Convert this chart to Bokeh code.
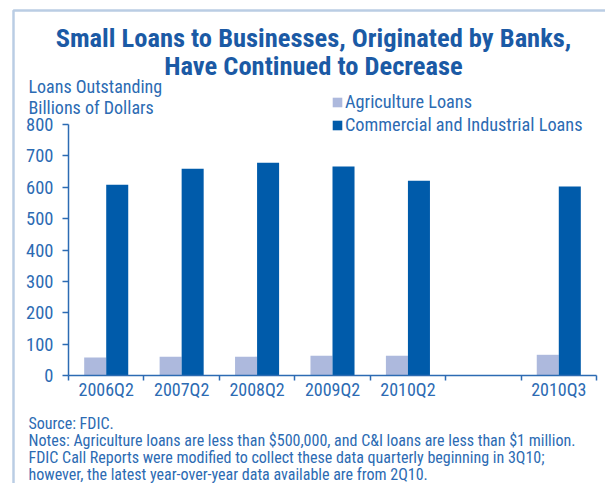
import numpy as np
from bokeh.plotting import figure
from bokeh.models import Range1d, FixedTicker, Label, Legend, LegendItem, BoxAnnotation, ColumnDataSource
from bokeh.embed import file_html
from bokeh.resources import INLINE

# ---- data ----
periods = ["2006Q2", "2007Q2", "2008Q2", "2009Q2", "2010Q2", "", "2010Q3"]
agriculture = [57, 60, 60, 63, 63, None, 66]
commercial_industrial = [608, 659, 678, 666, 621, None, 602]
y_ticks = [0, 100, 200, 300, 400, 500, 600, 700, 800]

title_lines = ["Small Loans to Businesses, Originated by Banks,",
               "Have Continued to Decrease"]
y_title_lines = ["Loans Outstanding", "Billions of Dollars"]
series_names = ["Agriculture Loans", "Commercial and Industrial Loans"]
note_lines = [
    "Source: FDIC.",
    "Notes: Agriculture loans are less than $500,000, and C&I loans are less than $1 million.",
    "FDIC Call Reports were modified to collect these data quarterly beginning in 3Q10;",
    "however, the latest year-over-year data available are from 2Q10.",
]

# ---- style ----
FONT = "Roboto Condensed, Roboto"
TITLE_C = "#1b5aa5"
TEXT_C = "#2c6bb3"
AGRI_C = "#adb9dd"
CI_C = "#005baa"

W, H = 605, 483
AX_L, AX_R, AX_T, AX_B = 68, 596, 124, 375   # plot area (px) for x 0..n, y 0..ymax
n = len(periods)
ymax = 800


def fx(px):  # px -> data x
    return (px - AX_L) * n / (AX_R - AX_L)


def fy(py):  # px -> data y
    return (AX_B - py) * ymax / (AX_B - AX_T)


p = figure(width=W, height=H, output_backend="svg", toolbar_location=None,
           x_range=Range1d(fx(0), fx(W)), y_range=Range1d(fy(H), fy(0)),
           min_border=0)
p.outline_line_color = None
p.xgrid.visible = False
p.ygrid.visible = False
p.background_fill_color = "white"
p.border_fill_color = "white"

# bars
bw = 0.292
idx = [i for i, v in enumerate(commercial_industrial) if v is not None]
src = ColumnDataSource(dict(
    xa=[i + 0.5 - bw / 2 for i in idx],
    xc=[i + 0.5 + bw / 2 for i in idx],
    agri=[agriculture[i] for i in idx],
    ci=[commercial_industrial[i] for i in idx],
))
r_agri = p.vbar(x="xa", top="agri", bottom=0, width=bw, source=src,
                fill_color=AGRI_C, line_color=None)
r_ci = p.vbar(x="xc", top="ci", bottom=0, width=bw, source=src,
              fill_color=CI_C, line_color=None)

# x axis
xa = p.xaxis[0]
xa.fixed_location = 0
xa.bounds = (0, n)
xa.ticker = FixedTicker(ticks=[i + 0.5 for i in range(n)], minor_ticks=list(range(n + 1)))
xa.major_label_overrides = {i + 0.5: lab for i, lab in enumerate(periods)}
xa.major_tick_line_color = None
xa.major_tick_out = 0
xa.major_tick_in = 0
xa.minor_tick_out = 5
xa.minor_tick_in = 0
xa.minor_tick_line_color = TEXT_C
xa.minor_tick_line_width = 1.5
xa.axis_line_color = TEXT_C
xa.axis_line_width = 1.5
xa.major_label_standoff = -2
xa.major_label_text_font = FONT
xa.major_label_text_font_size = "18px"
xa.major_label_text_color = TEXT_C

ya = p.yaxis[0]
ya.fixed_location = 0
ya.bounds = (0, ymax)
ya.ticker = FixedTicker(ticks=y_ticks)
ya.minor_tick_line_color = None
ya.major_tick_out = 6
ya.major_tick_in = 0
ya.major_tick_line_color = TEXT_C
ya.major_tick_line_width = 1.5
ya.axis_line_color = TEXT_C
ya.axis_line_width = 1.5
ya.major_label_standoff = 9
ya.major_label_text_font = FONT
ya.major_label_text_font_size = "18.5px"
ya.major_label_text_color = TEXT_C

# legend
legend = Legend(items=[LegendItem(label=series_names[0], renderers=[r_agri]),
                       LegendItem(label=series_names[1], renderers=[r_ci])],
                location=(331, H - 135), orientation="vertical",
                glyph_width=12, glyph_height=12, label_height=21, spacing=2,
                padding=0, margin=0, border_line_color=None,
                background_fill_alpha=0, label_standoff=2,
                label_text_font=FONT, label_text_font_size="18.3px",
                label_text_color=TEXT_C)
p.add_layout(legend, "center")

# title
for i, t in enumerate(title_lines):
    p.add_layout(Label(x=fx(313), y=fy(37 + 28 * i), text=t, text_align="center",
                       text_baseline="alphabetic", text_font=FONT,
                       text_font_size="26.5px", text_font_style="bold", text_color=TITLE_C))

# y title
for i, t in enumerate(y_title_lines):
    p.add_layout(Label(x=fx(28), y=fy(86 + 21 * i), text=t, text_align="left",
                       text_baseline="alphabetic", text_font=FONT,
                       text_font_size="18px", text_color=TEXT_C))

# notes
for i, t in enumerate(note_lines):
    p.add_layout(Label(x=fx(28), y=fy(422.5 + 17.3 * i), text=t, text_align="left",
                       text_baseline="alphabetic", text_font=FONT,
                       text_font_size="16px", text_color=TEXT_C))

# frame border (left and top)
p.add_layout(BoxAnnotation(left=fx(13), top=fy(10), right=fx(3000), bottom=fy(3000),
                           fill_alpha=0, line_color=TITLE_C, line_width=2.5))

open("out.html", "w").write(file_html(p, INLINE))
